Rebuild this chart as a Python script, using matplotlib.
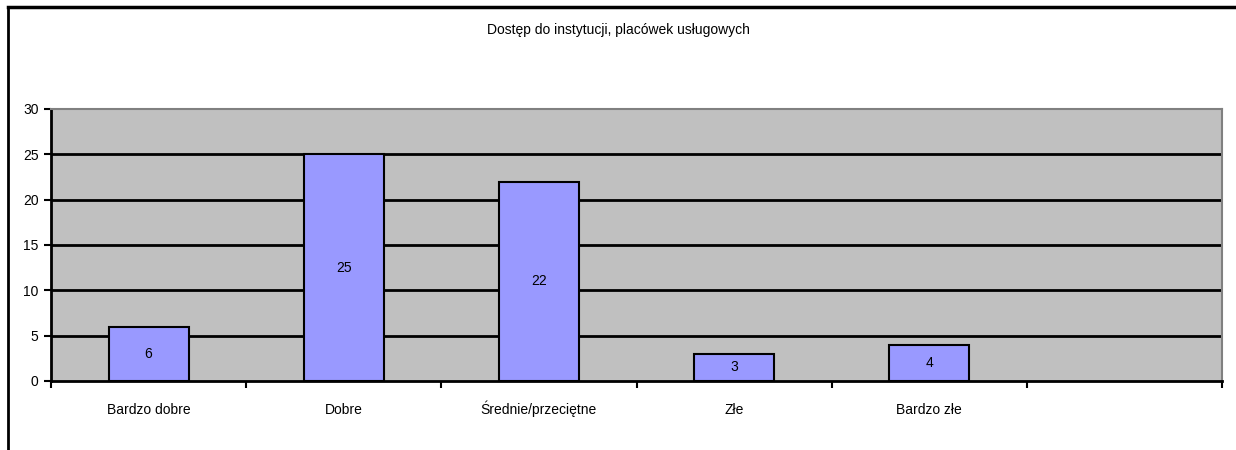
import matplotlib
matplotlib.use("Agg")
import matplotlib.pyplot as plt
from matplotlib import font_manager as fm
from matplotlib.lines import Line2D

categories = ["Bardzo dobre", "Dobre", "Średnie/przeciętne", "Złe", "Bardzo złe", ""]
values = [6, 25, 22, 3, 4]
yticks = [0, 5, 10, 15, 20, 25, 30]
title = "Dostęp do instytucji, placówek usługowych"

names = {f.name for f in fm.fontManager.ttflist}
fam = ["Liberation Sans Narrow", "Liberation Sans", "DejaVu Sans"]
fam = [f for f in fam if f in names] or ["DejaVu Sans"]
plt.rcParams["font.family"] = fam

W, H = 1236, 450
fig = plt.figure(figsize=(W / 100, H / 100), dpi=100)
ax = fig.add_axes([51 / W, 1 - 381 / H, (1222 - 51) / W, (381 - 109) / H])
ax.set_facecolor("#c0c0c0")

x = list(range(len(values)))
ax.bar(x, values, width=0.41, color="#9999ff", edgecolor="black", linewidth=1.5, zorder=3)
for xi, v in zip(x, values):
    ax.text(xi, v / 2, str(v), ha="center", va="center", fontsize=10, zorder=4)

ax.set_xlim(-0.5, len(categories) - 0.5)
ax.set_ylim(0, 30)
ax.set_yticks(yticks)
ax.set_yticklabels([str(t) for t in yticks], fontsize=10)
for t in yticks[1:-1]:
    ax.axhline(t, color="black", linewidth=2, zorder=2)

ax.set_xticks([i + 0.5 for i in range(-1, len(categories))])
ax.set_xticklabels([])
ax.set_xticks(list(range(len(categories))), minor=True)
ax.set_xticklabels(categories, minor=True, fontsize=10)
ax.tick_params(axis="x", which="minor", length=0, pad=24)
for lab in ax.get_xticklabels(minor=True):
    lab.set_va("baseline")
ax.tick_params(axis="x", which="major", direction="out", length=5, width=1.5)
ax.tick_params(axis="y", direction="out", length=5, width=1.5, pad=4)

ax.spines["left"].set_linewidth(2)
ax.spines["bottom"].set_linewidth(2)
ax.spines["top"].set_color("#808080")
ax.spines["right"].set_color("#808080")
ax.spines["top"].set_linewidth(1.5)
ax.spines["right"].set_linewidth(1.5)

fig.text(0.5, 1 - 30 / H, title, ha="center", va="center", fontsize=10)

# figure border: top and left
fig.add_artist(Line2D([8 / W, 1], [1 - 6.5 / H, 1 - 6.5 / H], color="black", linewidth=2.5, transform=fig.transFigure))
fig.add_artist(Line2D([8 / W, 8 / W], [0, 1 - 6.5 / H], color="black", linewidth=2, transform=fig.transFigure))

fig.savefig("out.png", dpi=100)
